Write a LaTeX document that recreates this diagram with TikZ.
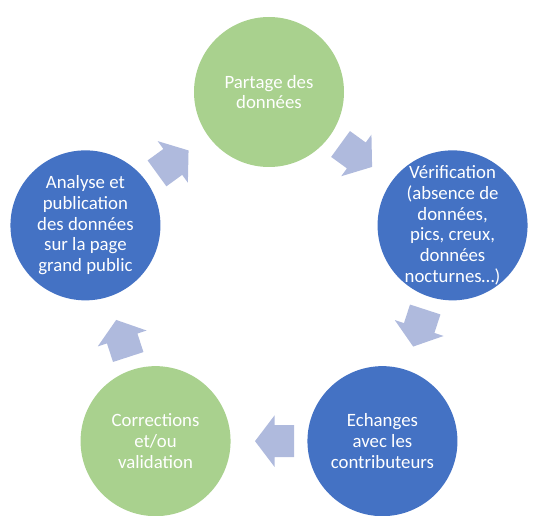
\documentclass[tikz,border=0pt]{standalone}
\usepackage{fontspec}
\setmainfont{Carlito}
\usetikzlibrary{calc}
\definecolor{cblue}{HTML}{4472C4}
\definecolor{cgreen}{HTML}{A9D18E}
\definecolor{carrow}{HTML}{AFBADD}
\tikzset{
  circ/.style={circle, minimum size=150pt, inner sep=0pt, draw=none},
  bluecirc/.style={circ, fill=cblue},
  greencirc/.style={circ, fill=cgreen},
  txt/.style={text=white, align=center, inner sep=0pt, font=\fontsize{18.8}{20.7}\selectfont},
  cyclearrow/.pic={
    \fill[carrow] (-19.5,-16) -- (0,-16) -- (0,-25.7) -- (19.5,0) -- (0,25.7) -- (0,16) -- (-19.5,16) -- cycle;
  }
}
\begin{document}
\begin{tikzpicture}[x=1pt,y=1pt]
\useasboundingbox (0,0) rectangle (533,515);
\coordinate (c) at (269,230);
\node[greencirc] (p1) at ($(c)+(90:193)$) {};
\node[bluecirc]  (p2) at ($(c)+(18:193)$) {};
\node[bluecirc]  (p3) at ($(c)+(-54:193)$) {};
\node[greencirc] (p4) at ($(c)+(-126:193)$) {};
\node[bluecirc]  (p5) at ($(c)+(162:193)$) {};
\node[txt] (t1) at (p1) {Partage des\\données};
\node[txt] (t2) at (p2) {Vérification\\(absence de\\données,\\pics, creux,\\données\\nocturnes…)};
\node[txt] (t3) at (p3) {Echanges\\avec les\\contributeurs};
\node[txt] (t4) at (p4) {Corrections\\et/ou\\validation};
\node[txt] (t5) at (p5) {Analyse et\\publication\\des données\\sur la page\\grand public};
\foreach \a/\b in {p1/p2, p2/p3, p3/p4, p4/p5, p5/p1}{
  \path let \p1=($(\b)-(\a)$), \n1={atan2(\y1,\x1)} in
    ($(\a)!0.5!(\b)!5.5pt!(\a)$) pic[rotate=\n1] {cyclearrow};
}
\end{tikzpicture}
\end{document}
